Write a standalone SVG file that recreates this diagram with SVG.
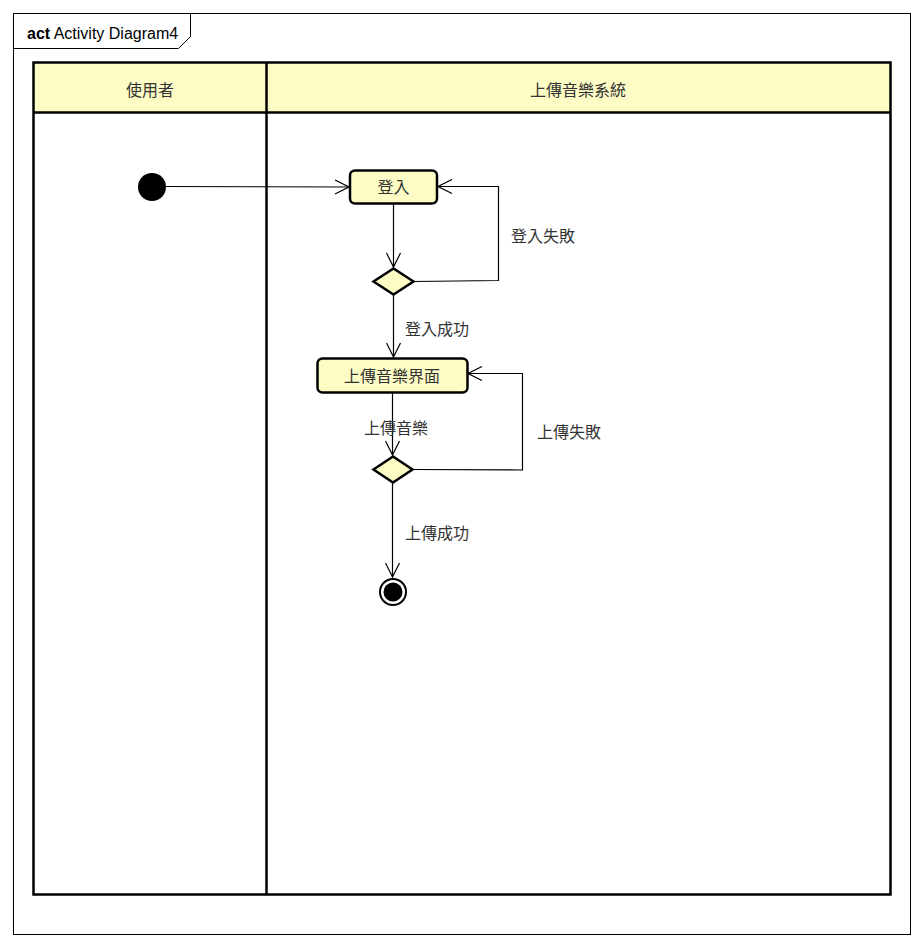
<svg xmlns="http://www.w3.org/2000/svg" width="924" height="948" viewBox="0 0 924 948">
<style>
.t{font-family:"Liberation Sans","Noto Sans CJK TC",sans-serif;font-size:16px;fill:#333;text-anchor:middle}
.n{fill:#fdfcc5;stroke:#000;stroke-width:2.5}
.c{fill:none;stroke:#000;stroke-width:1.2}
</style>
<defs>
<marker id="a" markerWidth="16" markerHeight="16" refX="15" refY="8" orient="auto" markerUnits="userSpaceOnUse">
<path d="M1,1 L15,8 L1,15" fill="none" stroke="#000" stroke-width="1.2"/>
</marker>
</defs>
<rect width="924" height="948" fill="#fff"/>
<g id="frame">
<rect x="13.5" y="13.5" width="897" height="921" fill="none" stroke="#000" stroke-width="1"/>
<path d="M13.5,48.5 H178.5 L190.5,36.5 V13.5" fill="none" stroke="#000" stroke-width="1"/>
<text x="27" y="39" style="font-family:'Liberation Sans',sans-serif;font-size:16px;fill:#000"><tspan font-weight="bold">act</tspan> Activity Diagram4</text>
</g>
<g id="lanes">
<rect x="33.5" y="62.5" width="857" height="50" fill="#fdfcc5"/>
<rect x="33.5" y="62.5" width="857" height="832" fill="none" stroke="#000" stroke-width="2.5"/>
<line x1="33.5" y1="112.5" x2="890.5" y2="112.5" stroke="#000" stroke-width="2.5"/>
<line x1="266.5" y1="62.5" x2="266.5" y2="894.5" stroke="#000" stroke-width="2.5"/>
<text class="t" x="150" y="96">使用者</text>
<text class="t" x="578" y="96">上傳音樂系統</text>
</g>
<g id="connectors">
<path class="c" d="M166,186.5 L349,187" marker-end="url(#a)"/>
<path class="c" d="M393.5,204 V267" marker-end="url(#a)"/>
<path class="c" d="M413,281.5 L498.5,280.5 V186.5 H438" marker-end="url(#a)"/>
<path class="c" d="M393.5,295 V357" marker-end="url(#a)"/>
<path class="c" d="M392.5,393 V455" marker-end="url(#a)"/>
<path class="c" d="M413,469.5 L522.5,470 V373.5 H468" marker-end="url(#a)"/>
<path class="c" d="M392.5,483 V577" marker-end="url(#a)"/>
<text class="t" x="543" y="242">登入失敗</text>
<text class="t" x="437" y="335">登入成功</text>
<text class="t" x="396" y="434">上傳音樂</text>
<text class="t" x="569" y="438">上傳失敗</text>
<text class="t" x="437" y="539">上傳成功</text>
</g>
<g id="start"><circle cx="152" cy="187" r="14" fill="#000"/></g>
<g id="login"><rect class="n" x="350" y="170.5" width="87" height="33" rx="5"/><text class="t" x="393.5" y="193">登入</text></g>
<g id="d1"><path class="n" d="M373.5,281.5 L393.5,268.5 L413.5,281.5 L393.5,294.5 Z"/></g>
<g id="upload"><rect class="n" x="317.5" y="358.5" width="150" height="34" rx="5"/><text class="t" x="392" y="382">上傳音樂界面</text></g>
<g id="d2"><path class="n" d="M373.5,469.5 L393,456.5 L412.5,469.5 L393,482.5 Z"/></g>
<g id="end"><circle cx="393" cy="592" r="13" fill="#fff" stroke="#000" stroke-width="2"/><circle cx="393" cy="592" r="9.5" fill="#000"/></g>
</svg>
